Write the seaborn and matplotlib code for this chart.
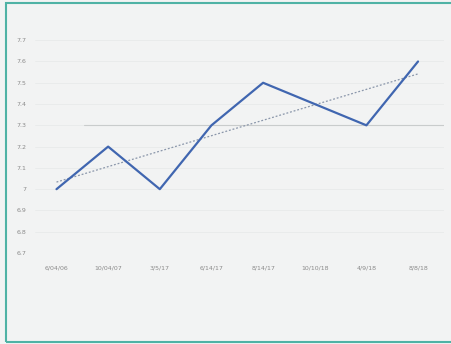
import matplotlib
matplotlib.use("Agg")
import matplotlib.pyplot as plt
import seaborn as sns
import numpy as np
import pandas as pd
from matplotlib.patches import Rectangle

dates = ["6/04/06", "10/04/07", "3/5/17", "6/14/17", "8/14/17", "10/10/18", "4/9/18", "8/8/18"]
values = [7.0, 7.2, 7.0, 7.3, 7.5, 7.4, 7.3, 7.6]
yticks = [6.7, 6.8, 6.9, 7.0, 7.1, 7.2, 7.3, 7.4, 7.5, 7.6, 7.7]
ytick_labels = ["6.7", "6.8", "6.9", "7", "7.1", "7.2", "7.3", "7.4", "7.5", "7.6", "7.7"]
ref_level = 7.3

sns.set_theme(style="white")
plt.rcParams['font.family'] = ['DejaVu Sans']

df = pd.DataFrame({"x": np.arange(len(dates)), "value": values})

fig = plt.figure(figsize=(4.52, 3.44), dpi=100)
fig.patch.set_facecolor("#f2f3f3")
ax = fig.add_axes([0.077, 0.2645, 0.905, 0.631])
ax.set_facecolor("#f2f3f3")

# gridlines
for t in yticks:
    ax.axhline(t, color="#e8eaea", lw=0.6, zorder=0)
ax.axhline(ref_level, xmin=0.12, xmax=1.0, color="#c9cccc", lw=0.8, zorder=1)

# trend line
coef = np.polyfit(df["x"], df["value"], 1)
df["trend"] = np.polyval(coef, df["x"])
sns.lineplot(data=df, x="x", y="trend", ax=ax, color="#8a96aa", lw=0.9,
             linestyle=(0, (1.5, 1.5)), zorder=2)
sns.lineplot(data=df, x="x", y="value", ax=ax, color="#4066b0", lw=1.6, zorder=3)

ax.set_xlim(-0.42, len(dates) - 0.5)
ax.set_ylim(6.7, 7.72)
ax.set_yticks(yticks)
ax.set_yticklabels(ytick_labels, fontsize=4.5, color="#8a8a8a")
ax.set_xticks(np.arange(len(dates)))
ax.set_xticklabels(dates, fontsize=4.5, color="#8a8a8a")
ax.tick_params(axis="both", length=0, pad=6)
ax.tick_params(axis="x", pad=9)
ax.set_xlabel("")
ax.set_ylabel("")
for s in ax.spines.values():
    s.set_visible(False)

# teal frame
fig.patches.append(Rectangle((0.013, 0.005), 0.99, 0.985, transform=fig.transFigure,
                             fill=False, edgecolor="#4fb2a5", lw=1.5))

fig.savefig("out.png", dpi=100, facecolor=fig.get_facecolor())
